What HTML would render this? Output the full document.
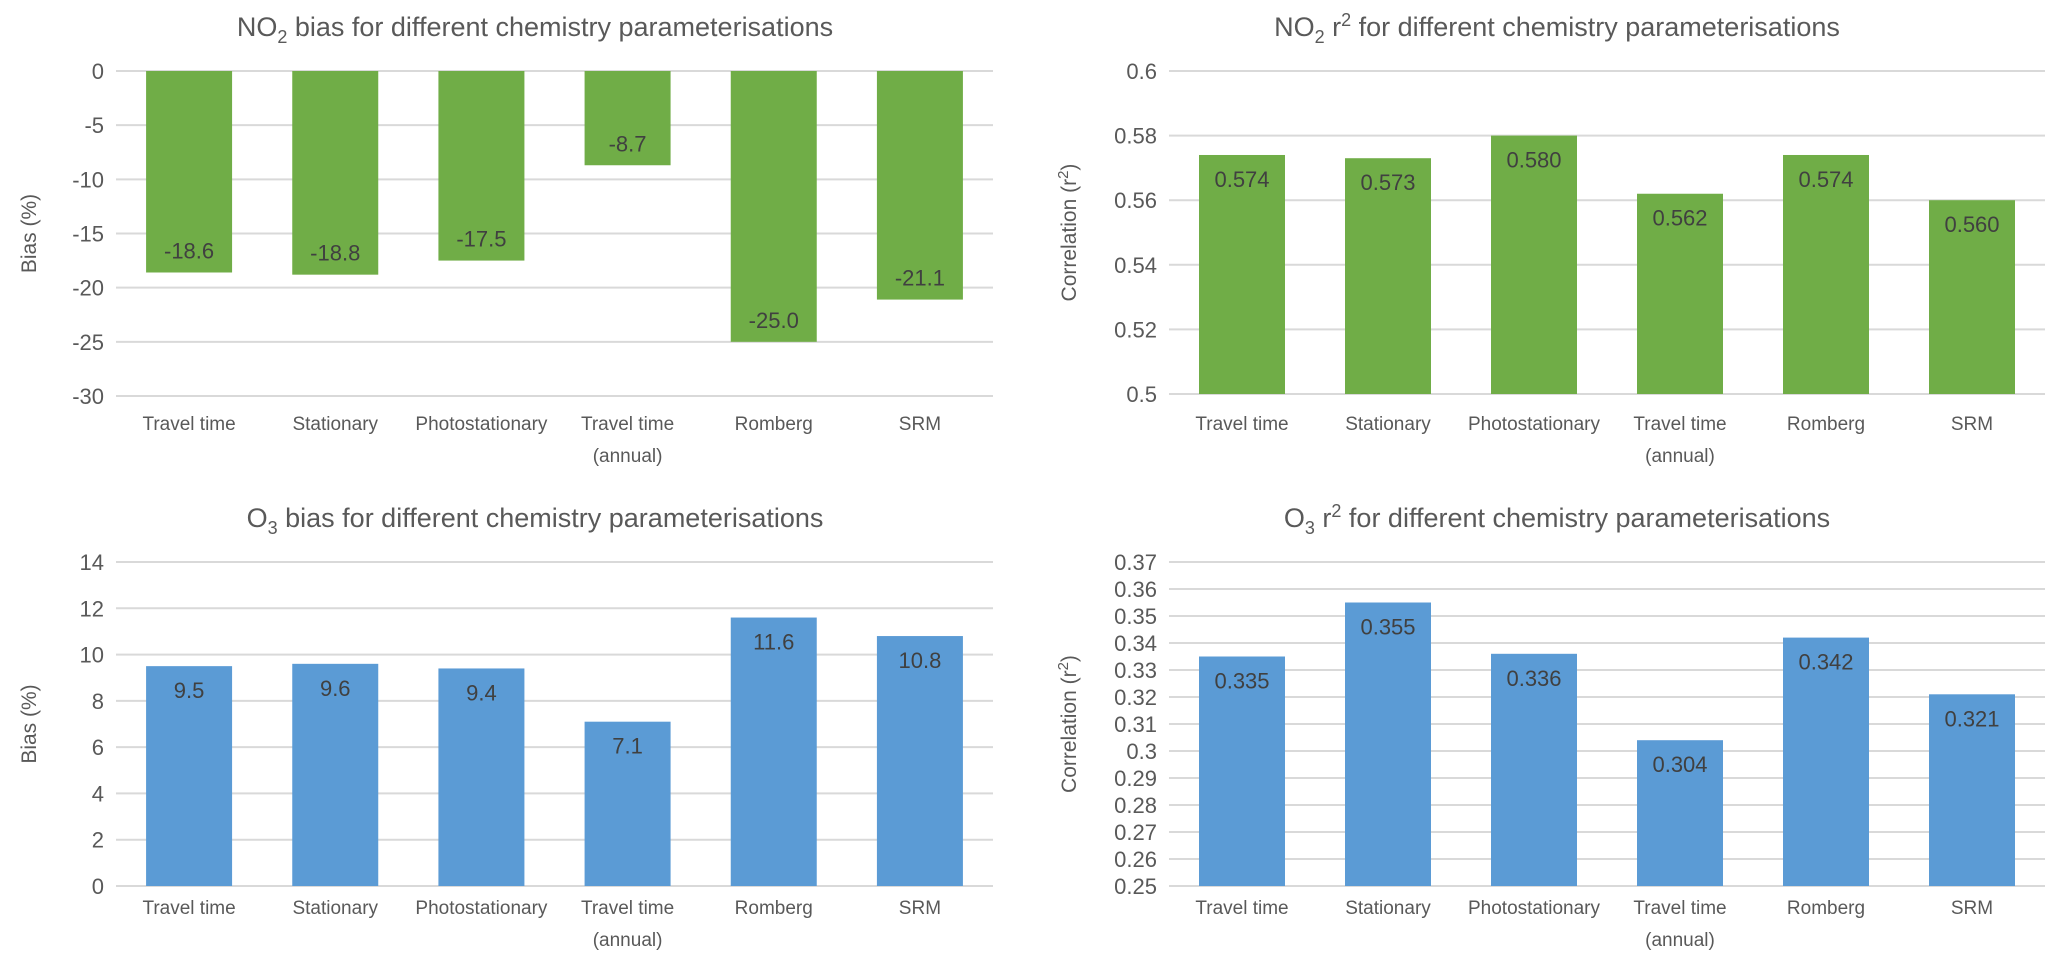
<!DOCTYPE html>
<html><head><meta charset="utf-8"><style>
body{margin:0;background:#fff;width:2067px;height:968px;overflow:hidden}
svg{display:block;font-family:"Liberation Sans",sans-serif}
</style></head><body>
<svg id="s" width="2067" height="968"></svg>
<script>
const categories=["Travel time","Stationary","Photostationary","Travel time|(annual)","Romberg","SRM"];
const no2Bias=[-18.6,-18.8,-17.5,-8.7,-25.0,-21.1];
const no2R2=[0.574,0.573,0.580,0.562,0.574,0.560];
const o3Bias=[9.5,9.6,9.4,7.1,11.6,10.8];
const o3R2=[0.335,0.355,0.336,0.304,0.342,0.321];
const no2BiasTicks=[0,-5,-10,-15,-20,-25,-30];
const no2R2Ticks=[0.5,0.52,0.54,0.56,0.58,0.6];
const o3BiasTicks=[0,2,4,6,8,10,12,14];
const o3R2Ticks=[0.25,0.26,0.27,0.28,0.29,0.3,0.31,0.32,0.33,0.34,0.35,0.36,0.37];
const NS="http://www.w3.org/2000/svg";
const svg=document.getElementById('s');
function mk(t,a,p){const e=document.createElementNS(NS,t);for(const k in a)e.setAttribute(k,a[k]);(p||svg).appendChild(e);return e;}
function chart(o){
  const g=mk('g',{});
  
  
  const y=v=>o.y0+(v-o.vmin)/(o.vmax-o.vmin)*(o.y1-o.y0);
  const step=(o.x1-o.x0)/categories.length;
  const x=i=>o.x0+step*(i+0.5);
  o.ticks.forEach(t=>{
    const l=mk('line',{x1:o.x0,x2:o.x1,y1:y(t),y2:y(t),stroke:'#d9d9d9','stroke-width':2},g);
    
    
    const tx=mk('text',{x:o.x0-12,y:y(t)+8,'text-anchor':'end','font-size':22,fill:'#595959'},g);
    tx.textContent=o.fmt?o.fmt(t):String(t);
    
    
  });
  const base=o.base;
  o.values.forEach((v,i)=>{
    const ya=y(base),yb=y(v);
    const r=mk('rect',{x:x(i)-43,y:Math.min(ya,yb),width:86,height:Math.abs(yb-ya),fill:o.color},g);
    
    
    const ly=v>=base?yb+32:yb-14;
    const lt=mk('text',{x:x(i),y:ly,'text-anchor':'middle','font-size':22,fill:'#404040'},g);
    lt.textContent=o.lab(v);
    
    
    const parts=categories[i].split('|');
    parts.forEach((p,k)=>{
      const c=mk('text',{x:x(i),y:o.catY+k*32,'text-anchor':'middle','font-size':19,fill:'#595959'},g);
      c.textContent=p;
      
      
    });
  });
  const t=mk('text',{x:o.tx,y:o.ty,'text-anchor':'middle','font-size':27,fill:'#595959'},g);
  t.innerHTML=o.title;
  
  
  const cy=(o.y0+o.y1)/2;
  const at=mk('text',{x:o.ax,y:cy,'text-anchor':'middle','font-size':21,fill:'#595959',transform:`rotate(-90 ${o.ax} ${cy})`},g);
  at.innerHTML=o.axisTitle;
  
  
}
chart({name:'no2-bias-chart',values:no2Bias,ticks:no2BiasTicks,vmin:0,vmax:-30,y0:71,y1:396,x0:116,x1:993,base:0,color:'#70ad47',lab:v=>v.toFixed(1),catY:430,tx:535,ty:36,ax:36,
 title:'NO<tspan font-size="18" dy="7">2</tspan><tspan dy="-7"> bias for different chemistry parameterisations</tspan>',axisTitle:'Bias (%)'});
chart({name:'no2-r2-chart',values:no2R2,ticks:no2R2Ticks,vmin:0.6,vmax:0.5,y0:71,y1:394,x0:1169,x1:2045,base:0.5,color:'#70ad47',lab:v=>v.toFixed(3),catY:430,fmt:t=>String(+t.toFixed(2)),tx:1557,ty:36,ax:1076,
 title:'NO<tspan font-size="18" dy="7">2</tspan><tspan dy="-7"> r</tspan><tspan font-size="18" dy="-10">2</tspan><tspan dy="10"> for different chemistry parameterisations</tspan>',axisTitle:'Correlation (r<tspan font-size="15" dy="-8">2</tspan><tspan dy="8">)</tspan>'});
chart({name:'o3-bias-chart',values:o3Bias,ticks:o3BiasTicks,vmin:14,vmax:0,y0:562,y1:886,x0:116,x1:993,base:0,color:'#5b9bd5',lab:v=>v.toFixed(1),catY:914,tx:535,ty:527,ax:36,
 title:'O<tspan font-size="18" dy="7">3</tspan><tspan dy="-7"> bias for different chemistry parameterisations</tspan>',axisTitle:'Bias (%)'});
chart({name:'o3-r2-chart',values:o3R2,ticks:o3R2Ticks,vmin:0.37,vmax:0.25,y0:562,y1:886,x0:1169,x1:2045,base:0.25,color:'#5b9bd5',lab:v=>v.toFixed(3),catY:914,fmt:t=>String(+t.toFixed(2)),tx:1557,ty:527,ax:1076,
 title:'O<tspan font-size="18" dy="7">3</tspan><tspan dy="-7"> r</tspan><tspan font-size="18" dy="-10">2</tspan><tspan dy="10"> for different chemistry parameterisations</tspan>',axisTitle:'Correlation (r<tspan font-size="15" dy="-8">2</tspan><tspan dy="8">)</tspan>'});
</script>
</body></html>
